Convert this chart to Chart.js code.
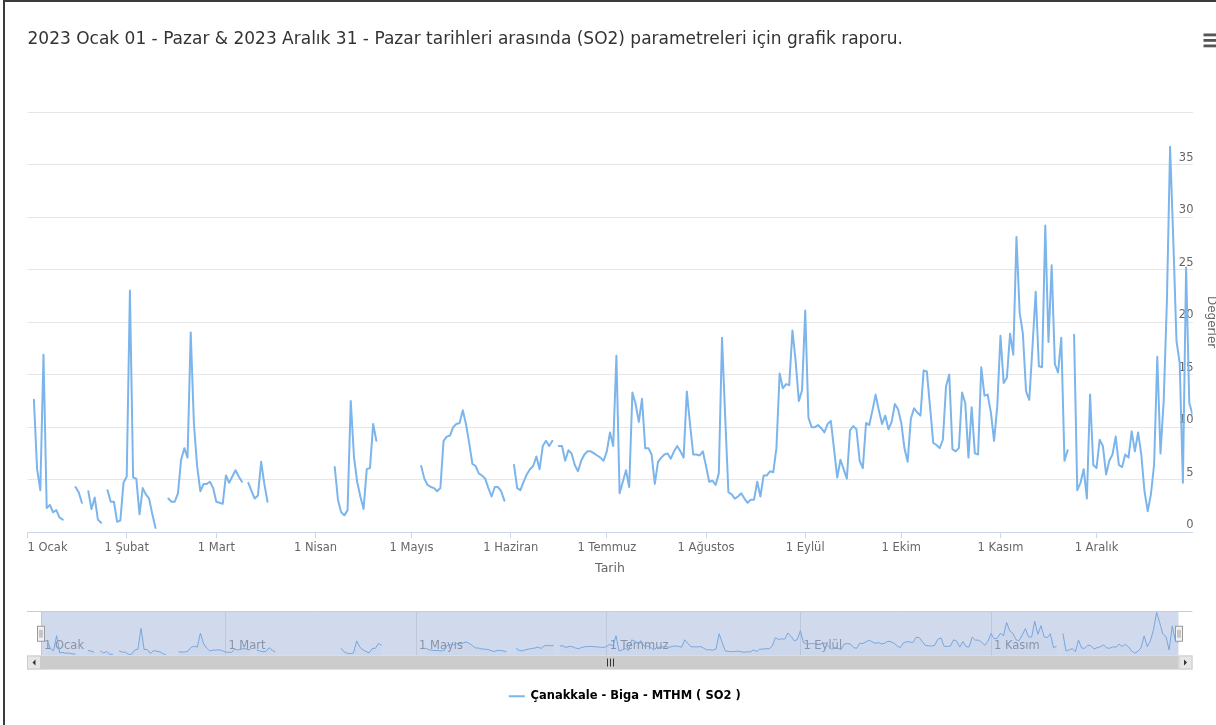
<!DOCTYPE html>
<html>
<head>
<meta charset="utf-8">
<script src="https://cdn.jsdelivr.net/npm/chart.js@4.4.0/dist/chart.umd.min.js"></script>
<style>
  html, body { margin: 0; padding: 0; background: #fff; overflow: hidden; }
  #frame { position: absolute; left: 3px; top: 0; width: 1280px; height: 800px; border-left: 2px solid #3b3b3b; border-top: 2px solid #3b3b3b; }
  #main { position: absolute; left: 0; top: 0; }
  #nav { position: absolute; left: 0; top: 600px; }
</style>
</head>
<body>
<div id="frame"></div>
<canvas id="main" width="1240" height="590"></canvas>
<canvas id="nav" width="1240" height="125"></canvas>
<script>
// daily SO2 values for 2023, one array per month (null = no measurement)
const jan = [null, null, 12.6, 6.0, 4.0, 16.9, 2.3, 2.6, 1.9, 2.1, 1.4, 1.2, null, null, null, 4.3, 3.8, 2.8, null, 3.9, 2.2, 3.3, 1.2, 0.9, null, 4.0, 2.9, 2.9, 1.0, 1.1, 4.7];
const feb = [5.3, 23.0, 5.2, 5.1, 1.7, 4.2, 3.6, 3.2, 1.7, 0.4, null, null, null, 3.2, 2.9, 2.9, 3.7, 6.9, 8.0, 7.1, 19.0, 10.3, 6.3, 3.9, 4.6, 4.6, 4.8, 4.2];
const mar = [2.9, 2.8, 2.7, 5.4, 4.7, 5.3, 5.9, 5.3, 4.8, null, 4.7, 3.9, 3.2, 3.5, 6.7, 4.6, 2.9, null, null, null, null, null, null, null, null, null, null, null, null, null, null];
const apr = [null, null, null, null, null, null, 6.2, 3.1, 1.9, 1.6, 2.1, 12.5, 7.2, 4.8, 3.4, 2.2, 6.0, 6.1, 10.3, 8.7, null, null, null, null, null, null, null, null, null, null];
const may = [null, null, null, 6.3, 5.1, 4.5, 4.3, 4.2, 3.9, 4.2, 8.7, 9.1, 9.2, 10.0, 10.3, 10.4, 11.6, 10.3, 8.5, 6.5, 6.3, 5.6, 5.4, 5.1, 4.2, 3.4, 4.3, 4.3, 3.9, 3.0, null];
const jun = [null, 6.4, 4.2, 4.0, 4.8, 5.5, 6.0, 6.3, 7.2, 6.0, 8.2, 8.7, 8.2, 8.7, null, 8.2, 8.2, 6.8, 7.8, 7.5, 6.4, 5.8, 6.8, 7.4, 7.7, 7.7, 7.5, 7.3, 7.1, 6.8];
const jul = [7.7, 9.5, 8.2, 16.8, 3.7, 4.8, 5.9, 4.3, 13.3, 12.2, 10.5, 12.7, 8.0, 8.0, 7.4, 4.6, 6.7, 7.1, 7.4, 7.5, 7.0, 7.7, 8.2, 7.7, 7.1, 13.4, 10.3, 7.4, 7.4, 7.3, 7.7];
const aug = [6.3, 4.8, 4.9, 4.5, 5.6, 18.5, 10.9, 3.8, 3.6, 3.2, 3.4, 3.7, 3.2, 2.8, 3.1, 3.1, 4.8, 3.4, 5.4, 5.4, 5.8, 5.7, 8.0, 15.1, 13.7, 14.1, 14.0, 19.2, 16.3, 12.5, 13.5];
const sep = [21.1, 10.9, 10.0, 10.0, 10.2, 9.9, 9.5, 10.3, 10.6, 7.9, 5.2, 6.9, 6.0, 5.1, 9.7, 10.1, 9.8, 6.8, 6.1, 10.4, 10.2, 11.6, 13.1, 11.6, 10.3, 11.1, 9.8, 10.5, 12.2, 11.7];
const oct = [10.4, 8.0, 6.7, 10.8, 11.8, 11.4, 11.1, 15.4, 15.3, 11.9, 8.5, 8.3, 8.0, 8.8, 13.9, 15.0, 7.9, 7.7, 8.0, 13.3, 12.3, 7.1, 11.9, 7.5, 7.4, 15.7, 13.0, 13.1, 11.4, 8.7, 12.0];
const nov = [18.7, 14.2, 14.7, 18.9, 16.9, 28.1, 20.9, 18.9, 13.4, 12.6, 17.6, 22.9, 15.8, 15.7, 29.2, 18.1, 25.4, 16.0, 15.2, 18.5, 6.8, 7.8, null, 18.8, 4.0, 4.7, 6.0, 3.2, 13.1, 6.4];
const dec = [6.1, 8.8, 8.2, 5.5, 6.8, 7.4, 9.1, 6.4, 6.2, 7.4, 7.1, 9.6, 7.7, 9.5, 7.4, 3.9, 2.0, 3.6, 6.4, 16.7, 7.5, 12.5, 22.0, 36.7, 27.8, 18.2, 16.1, 4.7, 25.2, 12.3, 11.2];

const monthNames = ["Ocak", "Şubat", "Mart", "Nisan", "Mayıs", "Haziran", "Temmuz", "Ağustos", "Eylül", "Ekim", "Kasım", "Aralık"];
const yTicks = [0, 5, 10, 15, 20, 25, 30, 35, 40];
const titleText = "2023 Ocak 01 - Pazar & 2023 Aralık 31 - Pazar tarihleri arasında (SO2) parametreleri için grafik raporu.";
const seriesName = "Çanakkale - Biga - MTHM ( SO2 )";
const xTitle = "Tarih";
const yTitle = "Değerler";

// build day-of-year points
const months = [jan, feb, mar, apr, may, jun, jul, aug, sep, oct, nov, dec];
const monthStart = [];
let dayCount = 0;
months.forEach(m => { monthStart.push(dayCount); dayCount += m.length; });
const lastDay = dayCount - 1;
const points = [];
months.forEach((m, mi) => {
  m.forEach((v, i) => points.push({ x: monthStart[mi] + i, y: v }));
});

Chart.defaults.font.family = "'DejaVu Sans', Verdana, sans-serif";
Chart.defaults.color = "#666666";

const blue = "#7cb5ec";

// context menu button (three bars) right of the title
const menuButton = {
  id: "menuButton",
  afterDraw(chart) {
    const ctx = chart.ctx;
    const x = chart.chartArea.right + 11;
    ctx.save();
    ctx.fillStyle = "#555555";
    [33.5, 39, 44.5].forEach(y => ctx.fillRect(x, y, 18, 2.8));
    ctx.restore();
  }
};

new Chart(document.getElementById("main"), {
  type: "line",
  data: {
    datasets: [{
      label: seriesName,
      data: points,
      borderColor: blue,
      borderWidth: 2,
      pointRadius: 0,
      tension: 0,
      spanGaps: false,
      fill: false,
      borderJoinStyle: "round",
      borderCapStyle: "round"
    }]
  },
  options: {
    responsive: false,
    devicePixelRatio: 1,
    animation: false,
    events: [],
    layout: { padding: { left: 27.5, right: 18, top: 0, bottom: 14 } },
    plugins: {
      legend: { display: false },
      tooltip: { enabled: false },
      title: {
        display: true,
        text: titleText,
        align: "start",
        color: "#333333",
        font: { size: 17, weight: "normal" },
        padding: { top: 29, bottom: 62.6 }
      }
    },
    scales: {
      x: {
        type: "linear",
        min: 0,
        max: lastDay,
        // month starts, plus an unlabeled end tick so "inner" keeps the last month centred
        afterBuildTicks: s => { s.ticks = monthStart.concat([lastDay]).map(v => ({ value: v })); },
        ticks: {
          autoSkip: false,
          maxRotation: 0,
          align: "inner",
          padding: 3,
          color: "#666666",
          font: { size: 11.5 },
          callback: (v, i) => (i < monthNames.length ? "1 " + monthNames[i] : "")
        },
        grid: {
          drawOnChartArea: false,
          tickLength: 6,
          color: c => (c.tick && c.tick.value === lastDay ? "rgba(0,0,0,0)" : "#ccd6eb")
        },
        border: { color: "#ccd6eb" },
        title: { display: true, text: xTitle, color: "#666666", font: { size: 12.5 }, padding: { top: 3, bottom: 0 } }
      },
      y: {
        position: "right",
        min: yTicks[0],
        max: yTicks[yTicks.length - 1],
        afterBuildTicks: s => { s.ticks = yTicks.map(v => ({ value: v })); },
        afterFit: s => { s.width = 29.5; },
        ticks: {
          mirror: true,
          labelOffset: -7,
          padding: 1,
          color: "#666666",
          font: { size: 11.5 },
          callback: v => (v === yTicks[yTicks.length - 1] ? "" : v)
        },
        grid: { color: "#e6e6e6", drawTicks: false },
        border: { display: false },
        title: { display: true, text: yTitle, color: "#666666", font: { size: 12 } }
      }
    }
  },
  plugins: [menuButton]
});

// navigator pieces: labels under the series, mask, handles, scrollbar
const navigatorParts = {
  id: "navigatorParts",
  beforeDatasetsDraw(chart) {
    const { ctx, chartArea: a, scales: { x } } = chart;
    ctx.save();
    ctx.font = "11.5px 'DejaVu Sans', Verdana, sans-serif";
    ctx.fillStyle = "#999999";
    ctx.textBaseline = "middle";
    x.ticks.forEach(t => {
      const mi = monthStart.indexOf(t.value);
      ctx.fillText("1 " + monthNames[mi], x.getPixelForValue(t.value) + 3, a.bottom - 9);
    });
    ctx.restore();
  },
  afterDatasetsDraw(chart) {
    const { ctx, chartArea: a } = chart;
    ctx.save();
    // selected range mask
    ctx.fillStyle = "rgba(102,133,194,0.3)";
    ctx.fillRect(a.left, a.top, a.right - a.left, a.bottom - a.top);
    // outline
    ctx.strokeStyle = "#cccccc";
    ctx.lineWidth = 1;
    ctx.beginPath();
    ctx.moveTo(a.left - 14, a.top - 0.5);
    ctx.lineTo(a.right + 14, a.top - 0.5);
    ctx.stroke();
    // handles
    const mid = (a.top + a.bottom) / 2;
    [a.left, a.right].forEach(cx => {
      const hx = Math.round(cx) - 3.5;
      ctx.fillStyle = "#f2f2f2";
      ctx.strokeStyle = "#999999";
      ctx.fillRect(hx, mid - 7.5, 7, 15);
      ctx.strokeRect(hx, mid - 7.5, 7, 15);
      ctx.beginPath();
      ctx.moveTo(hx + 2.5, mid - 4); ctx.lineTo(hx + 2.5, mid + 4);
      ctx.moveTo(hx + 4.5, mid - 4); ctx.lineTo(hx + 4.5, mid + 4);
      ctx.stroke();
    });
    // scrollbar
    const sy = a.bottom, sh = 14;
    ctx.fillStyle = "#f2f2f2";
    ctx.fillRect(a.left - 14, sy, a.right - a.left + 28, sh);
    ctx.fillStyle = "#cccccc";
    ctx.fillRect(a.left, sy, a.right - a.left, sh);
    ctx.fillStyle = "#e6e6e6";
    ctx.fillRect(a.left - 14, sy, 14, sh);
    ctx.fillRect(a.right, sy, 14, sh);
    ctx.strokeStyle = "#cccccc";
    ctx.strokeRect(a.left - 13.5, sy + 0.5, 13, sh - 1);
    ctx.strokeRect(a.right + 0.5, sy + 0.5, 13, sh - 1);
    ctx.fillStyle = "#333333";
    const cy = sy + sh / 2;
    ctx.beginPath();
    ctx.moveTo(a.left - 5.5, cy - 3); ctx.lineTo(a.left - 5.5, cy + 3); ctx.lineTo(a.left - 8.5, cy); ctx.closePath();
    ctx.moveTo(a.right + 5.5, cy - 3); ctx.lineTo(a.right + 5.5, cy + 3); ctx.lineTo(a.right + 8.5, cy); ctx.closePath();
    ctx.fill();
    const rx = Math.round((a.left + a.right) / 2) + 0.5;
    ctx.strokeStyle = "#333333";
    ctx.beginPath();
    [-3, 0, 3].forEach(d => { ctx.moveTo(rx + d, cy - 4); ctx.lineTo(rx + d, cy + 4); });
    ctx.stroke();
    ctx.restore();
  }
};

new Chart(document.getElementById("nav"), {
  type: "line",
  data: {
    datasets: [{
      label: seriesName,
      data: points,
      borderColor: blue,
      borderWidth: 1,
      pointRadius: 0,
      tension: 0,
      spanGaps: false,
      fill: "origin",
      backgroundColor: "rgba(124,181,236,0.05)"
    }]
  },
  options: {
    responsive: false,
    devicePixelRatio: 1,
    animation: false,
    events: [],
    layout: { padding: { left: 41, right: 31.5, top: 12, bottom: 13 } },
    plugins: {
      tooltip: { enabled: false },
      title: { display: false },
      legend: {
        display: true,
        position: "bottom",
        labels: {
          boxWidth: 16,
          boxHeight: 2,
          color: "#333333",
          font: { size: 11.5, weight: "bold" },
          generateLabels: () => [{ text: seriesName, fillStyle: blue, strokeStyle: blue, lineWidth: 0, hidden: false, datasetIndex: 0 }]
        }
      }
    },
    scales: {
      x: {
        type: "linear",
        min: 0,
        max: lastDay,
        afterBuildTicks: s => { s.ticks = monthStart.filter((v, i) => i % 2 === 0).map(v => ({ value: v })); },
        afterFit: s => { s.height = 25; },
        ticks: { display: false },
        grid: { color: "#e6e6e6", drawTicks: false },
        border: { display: false }
      },
      y: {
        position: "right",
        min: 0,
        max: 37,
        afterFit: s => { s.width = 30; },
        ticks: { display: false },
        grid: { display: false },
        border: { display: false }
      }
    }
  },
  plugins: [navigatorParts]
});
</script>
</body>
</html>
